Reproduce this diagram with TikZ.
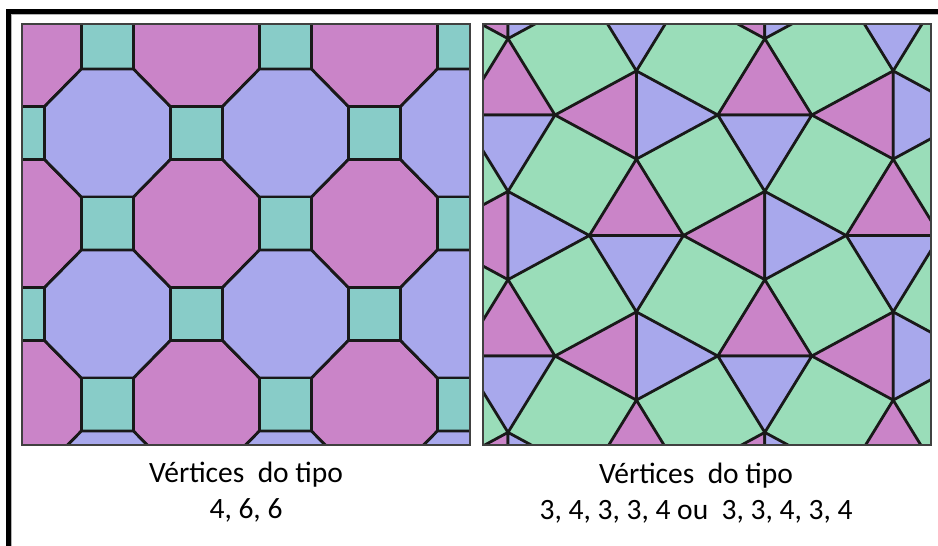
\documentclass[tikz,border=0pt]{standalone}
\usepackage{fontspec}
\setmainfont{Carlito}

\definecolor{rosa}{HTML}{CA84C8}
\definecolor{lilas}{HTML}{A8A8EC}
\definecolor{turquesa}{HTML}{88CCC8}
\definecolor{verde}{HTML}{9ADDB9}

% octogono e quadrado do mosaico da esquerda
\newcommand{\octogono}[3]{
  \filldraw[aresta, fill=#3, shift={(#1,#2)}]
    (0.7071,0.2929) -- (0.2929,0.7071) -- (-0.2929,0.7071) -- (-0.7071,0.2929)
    -- (-0.7071,-0.2929) -- (-0.2929,-0.7071) -- (0.2929,-0.7071) -- (0.7071,-0.2929) -- cycle;
}
\newcommand{\quadrado}[2]{
  \filldraw[aresta, fill=turquesa, shift={(#1,#2)}] (-0.2929,-0.2929) rectangle (0.2929,0.2929);
}
% losangos (dois triangulos) do mosaico da direita
\newcommand{\losangoH}[2]{
  \filldraw[aresta, fill=rosa, shift={(#1,#2)}] (-0.366,0) -- (0,-0.634) -- (0.366,0) -- cycle;
  \filldraw[aresta, fill=lilas, shift={(#1,#2)}] (-0.366,0) -- (0,0.634) -- (0.366,0) -- cycle;
}
\newcommand{\losangoV}[2]{
  \filldraw[aresta, fill=rosa, shift={(#1,#2)}] (0,-0.366) -- (-0.634,0) -- (0,0.366) -- cycle;
  \filldraw[aresta, fill=lilas, shift={(#1,#2)}] (0,-0.366) -- (0.634,0) -- (0,0.366) -- cycle;
}

\begin{document}
\begin{tikzpicture}[x=1pt, y=-1pt,
    aresta/.style={draw=black!90, line width=2.8pt, line join=round},
    painel/.style={draw=black!75, line width=1.2pt},
    rotulo/.style={font=\fontsize{29.5}{36}\selectfont, align=center, anchor=base, inner sep=0pt}]
    \useasboundingbox (0,0) rectangle (938,546);

    % moldura
    \draw[line width=5pt] (8.5,546) -- (8.5,11.5) -- (938,11.5);
    \draw[gray!60, line width=1pt] (11.5,546) -- (11.5,14.5) -- (938,14.5);

    % mosaico 4, 8, 8
    \begin{scope}
        \clip (22,24) rectangle (470,445);
        \begin{scope}[xshift=107.5pt, yshift=-42.5pt, x=89pt, y=-90.5pt]
            \foreach \i in {-1,...,4} {
                \foreach \j in {0,...,5} {
                    \pgfmathtruncatemacro{\paridade}{mod(\i+\j+10,2)}
                    \pgfmathtruncatemacro{\linha}{mod(\j,2)}
                    \ifnum\paridade=0
                        \quadrado{\i}{\j}
                    \else
                        \ifnum\linha=0 \octogono{\i}{\j}{rosa} \else \octogono{\i}{\j}{lilas} \fi
                    \fi
                }
            }
        \end{scope}
    \end{scope}
    \draw[painel] (22,24) rectangle (470,445);

    % mosaico quadrado achatado
    \begin{scope}
        \clip (483,24) rectangle (931,445);
        \fill[verde] (483,24) rectangle (931,445);
        \begin{scope}[xshift=508pt, yshift=-115pt, x=128.4pt, y=-120.5pt]
            \foreach \i in {0,...,3} {
                \foreach \j in {-1,...,3} {
                    \pgfmathtruncatemacro{\paridade}{mod(\i+\j+10,2)}
                    \ifnum\paridade=0 \losangoH{\i}{\j} \else \losangoV{\i}{\j} \fi
                }
            }
        \end{scope}
    \end{scope}
    \draw[painel] (483,24) rectangle (931,445);

    % Rotulos
    \node[rotulo] (rotuloA) at (246,518) {Vértices~ do tipo\\4, 6, 6};
    \node[rotulo] (rotuloB) at (696,519) {Vértices~ do tipo\\3, 4, 3, 3, 4 ou~ 3, 3, 4, 3, 4};
\end{tikzpicture}
\end{document}
